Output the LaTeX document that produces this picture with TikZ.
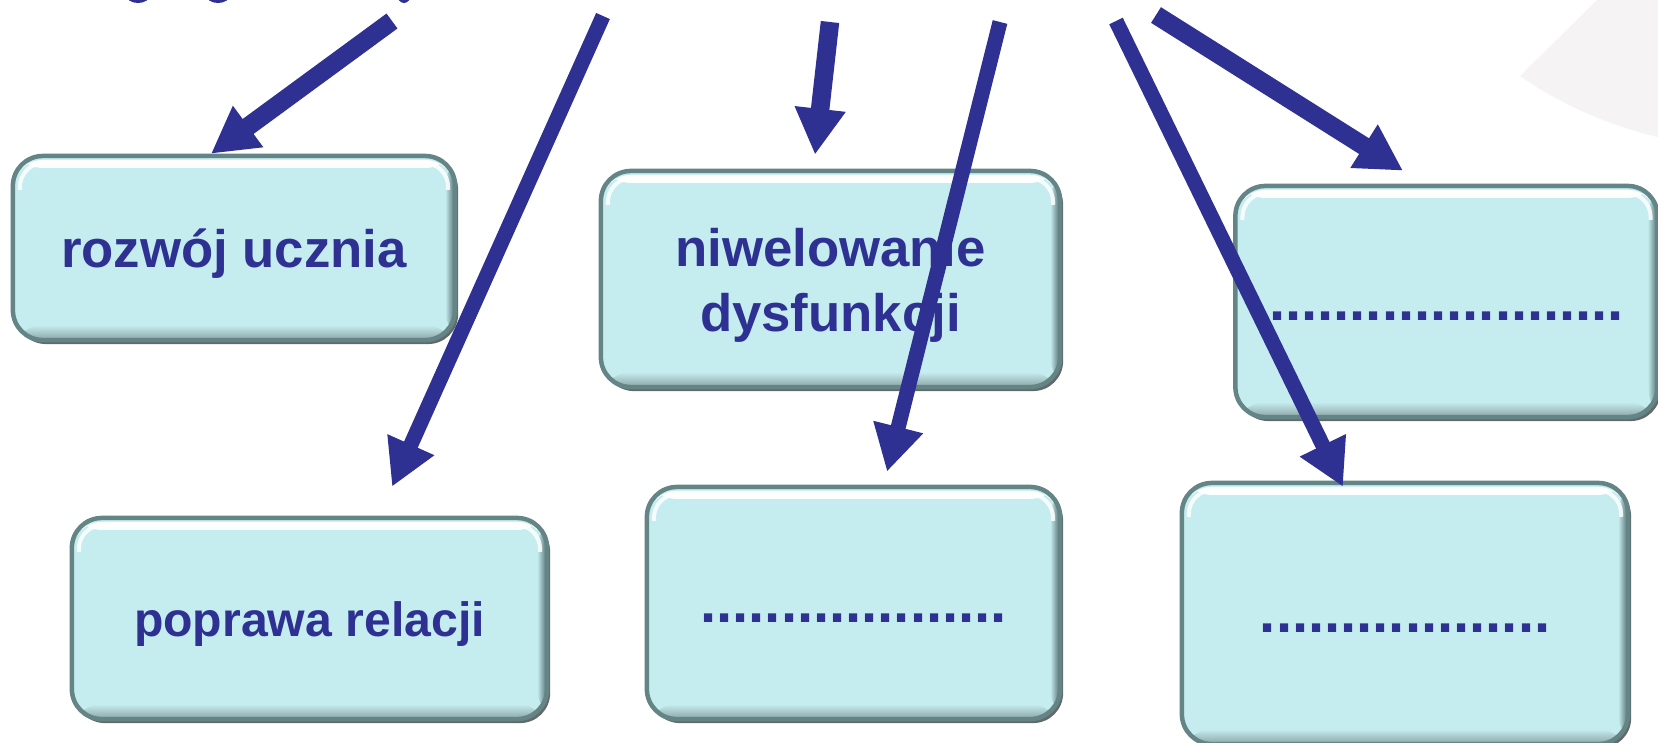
\documentclass[tikz,border=0pt]{standalone}
\usepackage{fontspec}
\setmainfont{Liberation Sans}
\usepackage{tikz}
\usetikzlibrary{arrows.meta,shadows}
\definecolor{goalBlue}{RGB}{46,49,146}
\definecolor{goalFill}{RGB}{197,237,240}
\definecolor{goalRim}{RGB}{100,132,134}
\definecolor{goalShade}{RGB}{30,42,44}
\definecolor{slideGray}{RGB}{245,243,243}
\newcommand{\goalRound}[0]{0.3cm}
\newcommand{\headLength}[0]{0.46cm}
\newcommand{\headWidth}[0]{0.48cm}

\begin{document}
\begin{tikzpicture}[x=0.01cm, y=-0.01cm]
  \tikzset{
    goal/.style={draw=goalRim, line width=0.045cm, fill=goalFill, rounded corners=\goalRound,
      drop shadow={shadow xshift=0.03cm, shadow yshift=-0.04cm, fill=goalShade, opacity=0.7},
      text=goalBlue, font=\bfseries\fontsize{15pt}{18.5pt}\selectfont, align=center, inner sep=0pt,
      path picture={
        \shade[top color=white, bottom color=goalFill]
          ([yshift=-0.04cm]path picture bounding box.north west) rectangle ([yshift=-0.12cm]path picture bounding box.north east);
        \shade[top color=goalFill, bottom color=goalRim!75]
          ([yshift=0.15cm]path picture bounding box.south west) rectangle (path picture bounding box.south east);
        \shade[left color=goalFill, right color=goalRim!80!black]
          ([xshift=-0.1cm]path picture bounding box.north east) rectangle (path picture bounding box.south east);
        \draw[white, line width=0.04cm, opacity=0.85, rounded corners=0.24cm]
          ([xshift=0.07cm, yshift=-0.34cm]path picture bounding box.north west)
          |- ([yshift=-0.07cm]path picture bounding box.north)
          -| ([xshift=-0.07cm, yshift=-0.34cm]path picture bounding box.north east);
      }},
    goal line/.style={goal, text height=14.2pt, text depth=3pt},
    goal blank/.style={goal, font=\bfseries\fontsize{16.5pt}{19pt}\selectfont, text height=14.6pt, text depth=3.8pt},
    pointer/.style={draw=goalBlue, line width=0.15cm, -{Triangle[length=\headLength, width=\headWidth]}},
    pointer thick/.style={pointer, line width=0.185cm}
  }
  \fill[slideGray] (1597,0) -- (1520,76) .. controls (1548,96) and (1600,124) .. (1658,137) -- (1658,0) -- cycle;
  \useasboundingbox (0,0) rectangle (1658,742);

  \fill[goalBlue] (138,-5) ellipse [x radius=0.12cm, y radius=0.08cm];
  \fill[goalBlue] (218,-5) ellipse [x radius=0.12cm, y radius=0.08cm];
  \fill[goalBlue] (404,-6) ellipse [x radius=0.07cm, y radius=0.09cm];

  \node[goal line, minimum width=4.42cm, minimum height=1.84cm] (goal-1) at (234,248) {rozwój ucznia};
  \node[goal, minimum width=4.59cm, minimum height=2.16cm] (goal-2) at (830.5,279) {\rule{0pt}{14.5pt}niwelowanie\\dysfunkcji};
  \node[goal blank, minimum width=4.22cm, minimum height=2.31cm] (goal-3) at (1446.5,301.5) {......................};
  \node[goal line, font=\bfseries\fontsize{13.7pt}{16pt}\selectfont, text height=12.8pt, text depth=2.3pt,
    minimum width=4.75cm, minimum height=2.01cm] (goal-4) at (309.5,618.5) {poprawa relacji};
  \node[goal blank, minimum width=4.13cm, minimum height=2.32cm] (goal-5) at (853.5,603) {...................};
  \node[goal blank, minimum width=4.46cm, minimum height=2.61cm] (goal-6) at (1405,613.5) {..................};

  \coordinate (src-1) at (392,21);
  \coordinate (src-2) at (603,16);
  \coordinate (src-3) at (830,22);
  \coordinate (src-4) at (1000,22);
  \coordinate (src-5) at (1116,21);
  \coordinate (src-6) at (1156,15);

  \draw[pointer thick] (src-1) -- ([xshift=-0.23cm]goal-1.north);
  \draw[pointer] (src-2) -- ([xshift=0.825cm, yshift=0.29cm]goal-4.north);
  \draw[pointer thick] (src-3) -- ([xshift=-0.155cm, yshift=0.14cm]goal-2.north);
  \draw[pointer] (src-4) -- ([xshift=0.335cm, yshift=0.13cm]goal-5.north);
  \draw[pointer] (src-5) -- ([xshift=-0.62cm, yshift=-0.06cm]goal-6.north);
  \draw[pointer thick] (src-6) -- ([xshift=-0.435cm, yshift=0.13cm]goal-3.north);
\end{tikzpicture}
\end{document}
